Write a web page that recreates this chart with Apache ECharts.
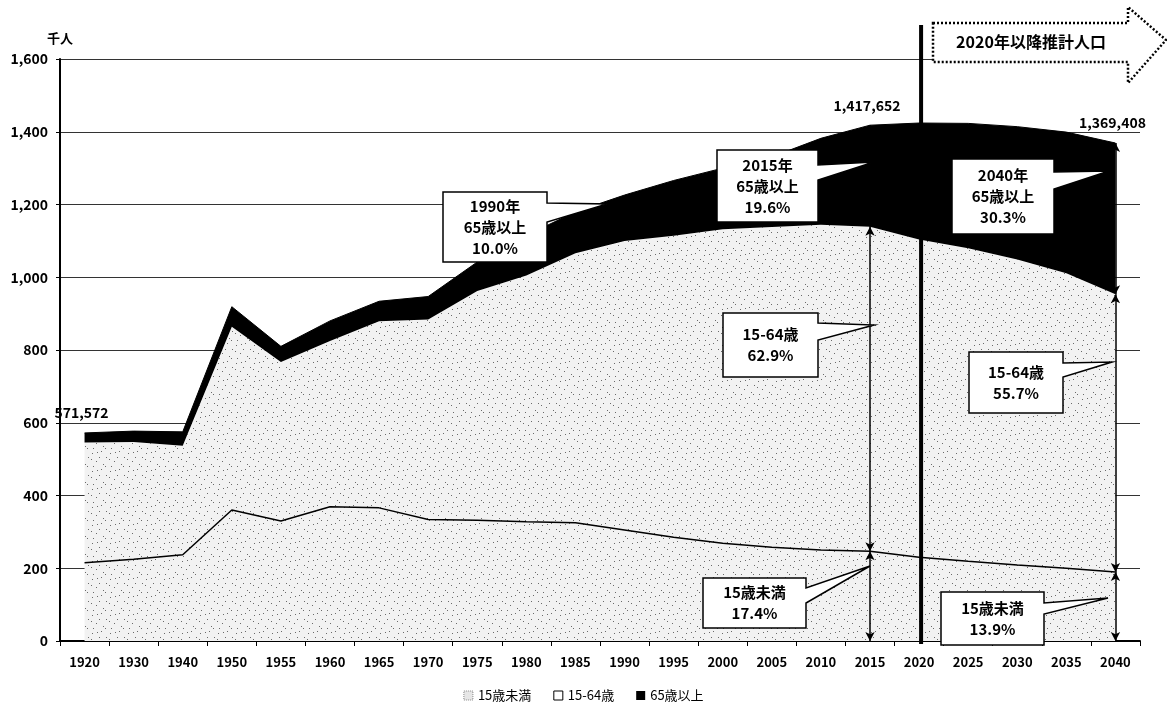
<!DOCTYPE html>
<html>
<head>
<meta charset="utf-8">
<script src="https://cdn.jsdelivr.net/npm/echarts@6/dist/echarts.min.js"></script>
<style>
html,body{margin:0;padding:0;background:#fff;}
#c{width:1167px;height:713px;}
</style>
</head>
<body>
<div id="c"></div>
<script>
// ---- data (thousand persons) ----
const years = ['1920','1930','1940','1950','1955','1960','1965','1970','1975','1980','1985','1990','1995','2000','2005','2010','2015','2020','2025','2030','2035','2040'];
const under15 = [215,225,237,360,330,369,366,334,332,328,325,305,285,269,258,250,247,230,219,209,200,190];
const age15to64 = [331,322,300,504,437,456,513,550,630,677,741,795,829,863,880,894,892,874,861,840,811,763];
const over65 = [26,30,38,55,43,55,55,63,80,110,114,126,152,168,193,238,279,320,343,365,388,416];
const seriesNames = ['15歳未満','15-64歳','65歳以上'];
const yTicks = [0,200,400,600,800,1000,1200,1400,1600];
const totalLabels = [['1920','571,572'],['2015','1,417,652'],['2040','1,369,408']];
const arrowYears = ['2015','2040'];
const callouts = [
  {text:'1990年\n65歳以上\n10.0%', box:[443,192,547,262], wedge:[203,222], tip:[607,204]},
  {text:'2015年\n65歳以上\n19.6%', box:[717,150,818,222], wedge:[165,180], tip:[874,162]},
  {text:'15-64歳\n62.9%', box:[723,313,818,377], wedge:[323,340], tip:[874,325]},
  {text:'15歳未満\n17.4%', box:[703,578,806,628], wedge:[588,603], tip:[870,566]},
  {text:'2040年\n65歳以上\n30.3%', box:[952,159,1054,234], wedge:[172,189], tip:[1109,171]},
  {text:'15-64歳\n55.7%', box:[969,352,1063,413], wedge:[363,377], tip:[1112,362]},
  {text:'15歳未満\n13.9%', box:[941,592,1044,645], wedge:[603,614], tip:[1108,598]}
];

function makePattern(){
  const c = document.createElement('canvas'); c.width = 18; c.height = 18;
  const g = c.getContext('2d');
  g.fillStyle = '#f2f2f2'; g.fillRect(0,0,18,18);
  g.fillStyle = '#6a6a6a';
  [[2,3],[11,1],[16,7],[6,11],[13,14],[3,16],[9,7],[15,16],[7,2],[1,9]].forEach(p=>g.fillRect(p[0],p[1],1,1));
  return c;
}
const pat = makePattern();
const FONT = '"Noto Sans CJK JP","Noto Sans",sans-serif';

const cum = (i, k) => {
  let s = 0; const arrs = [under15, age15to64, over65];
  for (let j = 0; j < k; j++) s += arrs[j][i];
  return s;
};
const markData = [];
arrowYears.forEach(y => {
  const i = years.indexOf(y);
  const lv = [cum(i,3), cum(i,2), cum(i,1), 0];
  for (let k = 0; k < 3; k++) markData.push([{coord:[y, lv[k]]},{coord:[y, lv[k+1]]}]);
});

const chart = echarts.init(document.getElementById('c'), null, {renderer:'canvas'});
const option = {
  animation:false,
  backgroundColor:'#fff',
  textStyle:{fontFamily:FONT},
  grid:{left:60,right:27,top:59,bottom:72},
  legend:{
    bottom:6, left:'center', itemWidth:9, itemHeight:9, itemGap:22,
    textStyle:{fontSize:13,color:'#000',fontFamily:FONT},
    data:[
      {name:seriesNames[0], icon:'rect', itemStyle:{color:'#e6e6e6',borderColor:'#888',borderWidth:1,borderType:'dotted'}},
      {name:seriesNames[1], icon:'rect', itemStyle:{color:'#fff',borderColor:'#000',borderWidth:1}},
      {name:seriesNames[2], icon:'rect', itemStyle:{color:'#000'}}
    ]
  },
  xAxis:{
    type:'category', data:years, boundaryGap:true,
    axisLine:{lineStyle:{color:'#000',width:2}},
    axisTick:{show:true,length:5,lineStyle:{color:'#000'}},
    axisLabel:{interval:0,color:'#000',fontSize:13,fontWeight:'bold',margin:15,fontFamily:FONT}
  },
  yAxis:{
    type:'value', min:0, max:1600, interval:200,
    name:'千人', nameLocation:'end', nameGap:14,
    nameTextStyle:{color:'#000',fontSize:13,fontWeight:'bold',align:'center',fontFamily:FONT},
    axisLine:{show:true,lineStyle:{color:'#000',width:2}},
    axisTick:{show:true,length:4,lineStyle:{color:'#000'}},
    axisLabel:{color:'#000',fontSize:14,fontWeight:'bold',margin:12,fontFamily:FONT,
      formatter:v=>v.toLocaleString('en-US')},
    splitLine:{lineStyle:{color:'#333',width:1}}
  },
  series:[
    {name:seriesNames[0], type:'line', stack:'t', data:under15, showSymbol:false,
     lineStyle:{color:'#000',width:1.5}, itemStyle:{color:'#e6e6e6'},
     areaStyle:{color:{image:pat,repeat:'repeat'},opacity:1}, z:3},
    {name:seriesNames[1], type:'line', stack:'t', data:age15to64, showSymbol:false,
     lineStyle:{width:0}, itemStyle:{color:'#fff'},
     areaStyle:{color:{image:pat,repeat:'repeat'},opacity:1}, z:2},
    {name:seriesNames[2], type:'line', stack:'t', data:over65, showSymbol:false,
     lineStyle:{color:'#000',width:1}, itemStyle:{color:'#000'},
     areaStyle:{color:'#000',opacity:1}, z:2,
     markLine:{silent:true, symbol:['arrow','arrow'], symbolSize:[7,9], label:{show:false},
       lineStyle:{color:'#000',width:1.5,type:'solid'}, data:markData}}
  ]
};
chart.setOption(option);

// ---- annotations ----
const g = [];
const px = (cat, v) => chart.convertToPixel({gridIndex:0}, [cat, v]);
// 2020 divider
const x2020 = px('2020', 0)[0] + 2;
g.push({type:'line', z:100, shape:{x1:x2020,y1:25,x2:x2020,y2:px('2020',0)[1]+3}, style:{stroke:'#000',lineWidth:4}});
// projection arrow
g.push({type:'polygon', z:100, shape:{points:[[933,23],[1128,23],[1128,7],[1166,40],[1128,83],[1128,62],[933,62]]},
  style:{fill:'#fff',stroke:'#000',lineWidth:2.5,lineDash:[2,2]}});
g.push({type:'text', z:101, style:{text:'2020年以降推計人口', x:1031, y:42, align:'center', verticalAlign:'middle',
  textAlign:'center', textVerticalAlign:'middle', font:'bold 16px '+FONT, fill:'#000'}});
// total labels
totalLabels.forEach(([yr, txt]) => {
  const i = years.indexOf(yr);
  const p = px(yr, cum(i,3));
  g.push({type:'text', z:101, style:{text:txt, x:p[0]-3, y:p[1]-20, align:'center', verticalAlign:'middle',
    textAlign:'center', textVerticalAlign:'middle', font:'bold 14px '+FONT, fill:'#000'}});
});
// callouts
callouts.forEach(c => {
  const [x0,y0,x1,y1] = c.box;
  g.push({type:'polygon', z:100, shape:{points:[[x0,y0],[x1,y0],[x1,c.wedge[0]],c.tip,[x1,c.wedge[1]],[x1,y1],[x0,y1]]},
    style:{fill:'#fff',stroke:'#000',lineWidth:1.5}});
  g.push({type:'text', z:101, style:{text:c.text, x:(x0+x1)/2, y:(y0+y1)/2, align:'center', verticalAlign:'middle',
    textAlign:'center', textVerticalAlign:'middle', font:'bold 15px '+FONT, lineHeight:21, fill:'#000'}});
});
chart.setOption({graphic:{elements:g}});
</script>
</body>
</html>
